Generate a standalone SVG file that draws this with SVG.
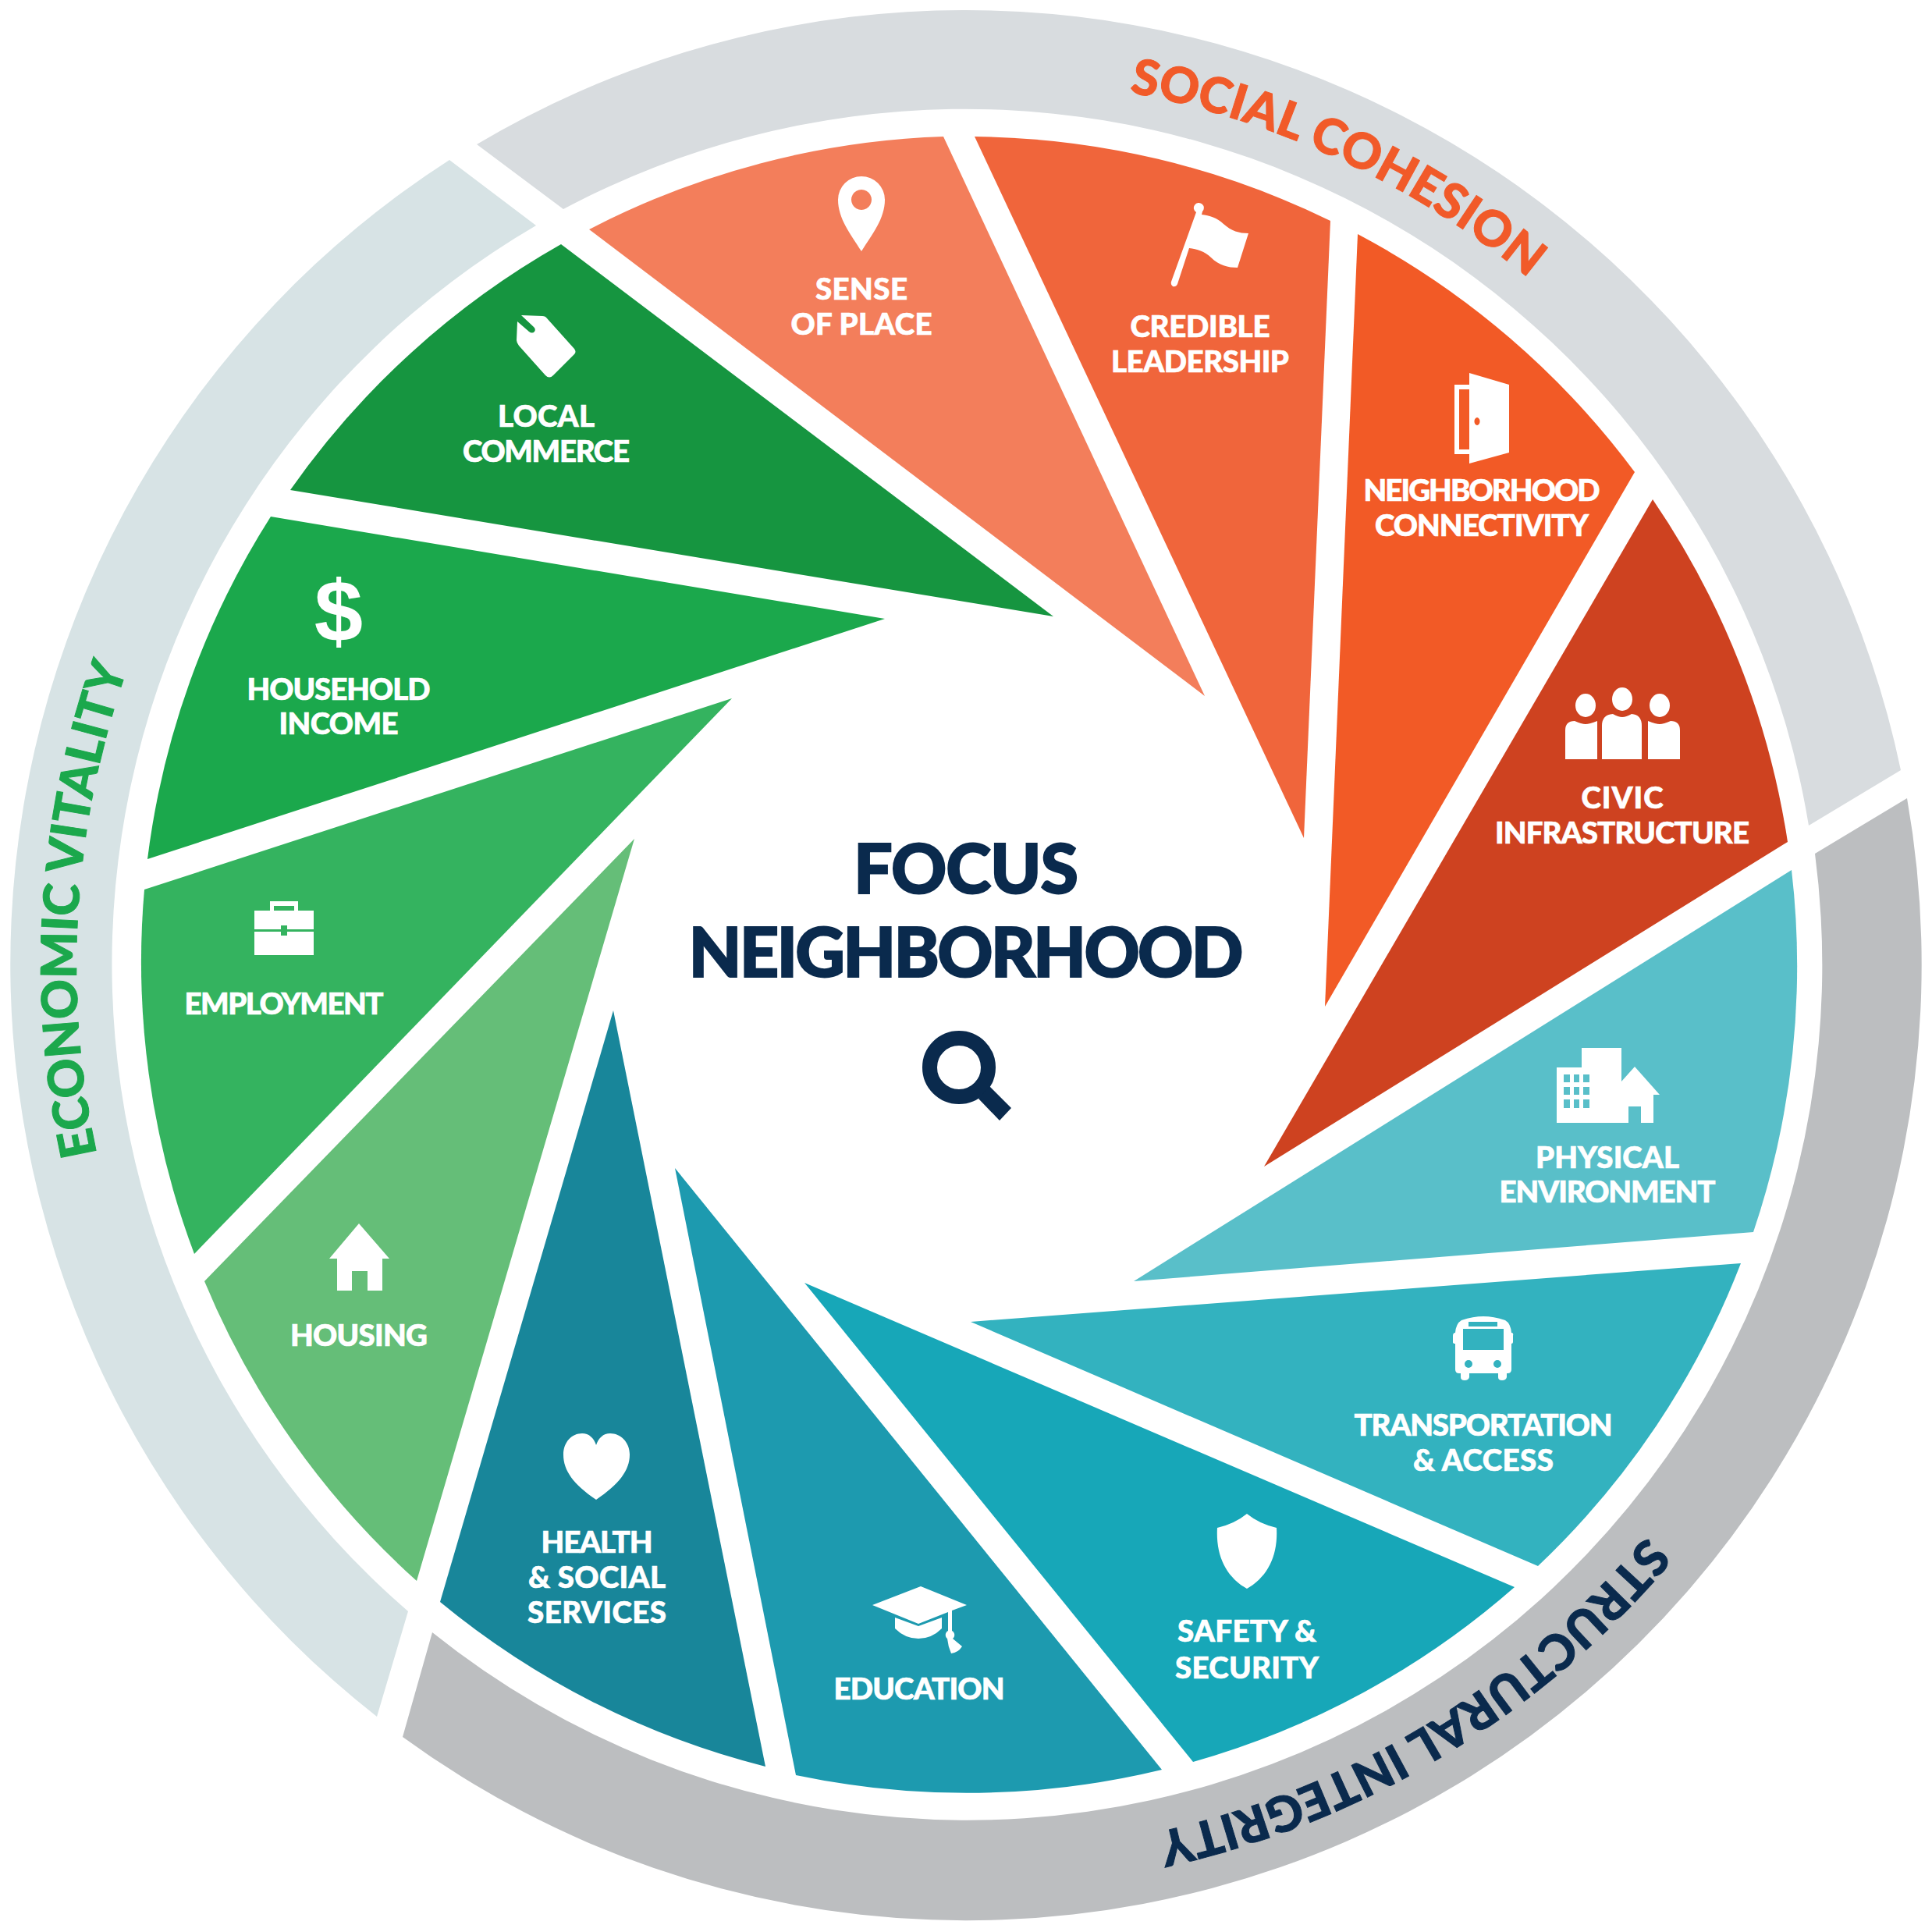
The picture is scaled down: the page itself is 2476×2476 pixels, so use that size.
<svg xmlns="http://www.w3.org/2000/svg" width="2476" height="2476" viewBox="0 0 2476 2476">
<style>
.l{font-family:"Lato","Open Sans","Liberation Sans",sans-serif;font-weight:900;font-size:38.500px;fill:#fff;stroke:#fff;stroke-width:.7px;text-anchor:middle}
.b{font-family:"Lato","Open Sans","Liberation Sans",sans-serif;font-weight:900;font-size:63px;stroke-width:1px}
.c{font-family:"Lato","Open Sans","Liberation Sans",sans-serif;font-weight:900;font-size:88px;fill:#0a2a4d;stroke:#0a2a4d;stroke-width:2px;text-anchor:middle}
.i{fill:#fff}
</style>
<defs>
<path id="ps" d="M1447.4 118.4A1138 1138 0 0 1 2223.5 668"/>
<path id="pe" d="M124 1478.900A1140 1140 0 0 1 364.700 504"/>
<path id="pt" d="M2109.7 1968.7A1138 1138 0 0 1 1238 2375"/>
</defs>
<rect width="2476" height="2476" fill="#fff"/>
<g id="band-social"><path fill="#d8dcdf" d="M611 185A1225 1225 0 0 1 2436 987L2318 1058A1096 1096 0 0 0 722 268Z"/><text class="b" fill="#f15a29" stroke="#f15a29"><textPath href="#ps" textLength="570" lengthAdjust="spacing">SOCIAL COHESION</textPath></text></g>
<g id="band-structural"><path fill="#bcbec0" d="M2444 1023A1225 1225 0 0 1 516 2226L554 2092A1096 1096 0 0 0 2326 1094Z"/><text class="b" fill="#0a2a4d" stroke="#0a2a4d"><textPath href="#pt" textLength="746" lengthAdjust="spacing">STRUCTURAL INTEGRITY</textPath></text></g>
<g id="band-economic"><path fill="#d7e3e5" d="M483 2200A1225 1225 0 0 1 576 205L687 289A1096 1096 0 0 0 523 2065Z"/><text class="b" fill="#1ba84c" stroke="#1ba84c"><textPath href="#pe" textLength="632" lengthAdjust="spacing">ECONOMIC VITALITY</textPath></text></g>

<g id="sense-of-place"><path fill="#f37e5b" d="M755 294A1063 1063 0 0 1 1209 175L1544 892Z"/>
<path class="i" fill-rule="evenodd" d="M1104 322C1090 300 1074 280 1074 256a30 30 0 0 1 60 0C1134 280 1118 300 1104 322ZM1104 243a13 13 0 1 0 .01 0Z"/>
<text class="l" x="1104" y="384" textLength="118" lengthAdjust="spacing">SENSE</text><text class="l" x="1104" y="429" textLength="181" lengthAdjust="spacing">OF PLACE</text></g>

<g id="credible-leadership"><path fill="#f0653b" d="M1249 175A1063 1063 0 0 1 1705 283L1671 1074Z"/>
<path class="i" d="M1533 272a6.500 6.500 0 1 1 8 -1l-1 4C1550 276 1560 279 1568 287C1578 296 1588 299 1600 299L1586 343C1574 343 1562 340 1552 330C1544 322 1534 319 1524 318L1509 364Q1507 368 1503 367Q1500 365 1501 361Z"/>
<text class="l" x="1538" y="432" textLength="179" lengthAdjust="spacing">CREDIBLE</text><text class="l" x="1538" y="477" textLength="228" lengthAdjust="spacing">LEADERSHIP</text></g>

<g id="neighborhood-connectivity"><path fill="#f25a26" d="M1740 300A1063 1063 0 0 1 2095 605L1698 1290Z"/>
<path class="i" fill-rule="evenodd" d="M1883 478L1934 493V580L1883 594ZM1893 535a3.500 5 0 1 0 .01 0Z"/><path fill="none" stroke="#fff" stroke-width="6" d="M1883 496H1867V579H1883"/>
<text class="l" x="1899" y="642" textLength="303" lengthAdjust="spacing">NEIGHBORHOOD</text><text class="l" x="1899" y="687" textLength="274" lengthAdjust="spacing">CONNECTIVITY</text></g>

<g id="civic-infrastructure"><path fill="#ce4220" d="M2118 640A1063 1063 0 0 1 2291 1079L1620 1495Z"/>
<g class="i"><ellipse cx="2032" cy="904" rx="13" ry="15"/><ellipse cx="2079" cy="896" rx="13" ry="15"/><ellipse cx="2127" cy="904" rx="13" ry="15"/>
<path d="M2006 973V936Q2006 924 2018 924Q2027 928 2032 928Q2037 928 2047 924V973Z"/><path d="M2053 973V930Q2053 916 2067 915Q2074 919 2079 919Q2084 919 2091 915Q2104 916 2104 930V973Z"/><path d="M2112 973V924Q2122 928 2127 928Q2132 928 2141 924Q2153 924 2153 936V973Z"/></g>
<text class="l" x="2079" y="1036" textLength="105" lengthAdjust="spacing">CIVIC</text><text class="l" x="2079" y="1081" textLength="326" lengthAdjust="spacing">INFRASTRUCTURE</text></g>

<g id="physical-environment"><path fill="#59bfc9" d="M2296 1115A1063 1063 0 0 1 2247 1579L1453 1642Z"/>
<path class="i" fill-rule="evenodd" d="M1995 1368H2027V1343H2078V1386L2095 1367L2127 1403H2119V1439H2103V1418H2087V1439H1995ZM2004 1377v10h8v-10ZM2017 1377v10h7v-10ZM2029 1377v10h8v-10ZM2004 1393v10h8v-10ZM2017 1393v10h7v-10ZM2029 1393v10h8v-10ZM2004 1409v11h8v-11ZM2017 1409v11h7v-11ZM2029 1409v11h8v-11Z"/>
<text class="l" x="2060" y="1497" textLength="184" lengthAdjust="spacing">PHYSICAL</text><text class="l" x="2060" y="1541" textLength="277" lengthAdjust="spacing">ENVIRONMENT</text></g>

<g id="transportation-access"><path fill="#33b2bf" d="M2231 1619A1063 1063 0 0 1 1971 2007L1244 1694Z"/>
<path class="i" fill-rule="evenodd" d="M1865 1708Q1866 1696 1873 1692Q1888 1687 1901 1687Q1914 1687 1929 1692Q1936 1696 1937 1708Q1940 1708 1939 1712V1720Q1939 1722 1937 1722V1755Q1937 1760 1932 1760H1931V1765Q1930 1769 1925 1769Q1920 1769 1920 1765V1760H1883V1765Q1882 1769 1877 1769Q1872 1769 1872 1765V1760H1870Q1865 1760 1865 1755V1722Q1862 1722 1862 1720V1712Q1862 1708 1865 1708ZM1882 1694V1700H1919V1694ZM1875 1703V1730H1927V1703ZM1887 1748a5 5 0 1 0 -10 0a5 5 0 1 0 10 0ZM1924 1748a5 5 0 1 0 -10 0a5 5 0 1 0 10 0Z"/>
<text class="l" x="1901" y="1840" textLength="331" lengthAdjust="spacing">TRANSPORTATION</text><text class="l" x="1901" y="1885" textLength="180" lengthAdjust="spacing">&amp; ACCESS</text></g>

<g id="safety-security"><path fill="#17a7b8" d="M1941 2034A1063 1063 0 0 1 1529 2258L1031 1644Z"/>
<path class="i" d="M1598 1940Q1582 1953 1560 1958C1558 1992 1570 2020 1598 2036C1626 2020 1638 1992 1636 1958Q1614 1953 1598 1940Z"/>
<text class="l" x="1598" y="2104" textLength="178" lengthAdjust="spacing">SAFETY &amp;</text><text class="l" x="1598" y="2151" textLength="184" lengthAdjust="spacing">SECURITY</text></g>

<g id="education"><path fill="#1d9aaf" d="M1489 2268A1063 1063 0 0 1 1020 2275L865 1497Z"/>
<path class="i" d="M1180 2033L1239 2057L1220 2064V2090A6 6 0 0 1 1221 2100L1233 2110Q1228 2118 1219 2119Q1215 2110 1214 2100A6 6 0 0 1 1215 2090V2066L1177 2081L1118 2057Z"/><path class="i" d="M1147 2073L1177 2084L1207 2073V2087Q1194 2100 1177 2100Q1160 2100 1147 2087Z"/>
<text class="l" x="1178" y="2178" textLength="219" lengthAdjust="spacing">EDUCATION</text></g>

<g id="health-social-services"><path fill="#18869a" d="M981 2264A1063 1063 0 0 1 564 2053L786 1295Z"/>
<path class="i" d="M764 1922C735 1902 722 1885 722 1864C722 1848 733 1837 746 1837C755 1837 761 1843 764 1852C767 1843 773 1837 782 1837C795 1837 807 1848 807 1864C807 1885 793 1902 764 1922Z"/>
<text class="l" x="765" y="1990" textLength="143" lengthAdjust="spacing">HEALTH</text><text class="l" x="765" y="2035" textLength="176" lengthAdjust="spacing">&amp; SOCIAL</text><text class="l" x="765" y="2080" textLength="178" lengthAdjust="spacing">SERVICES</text></g>

<g id="housing"><path fill="#65be78" d="M534 2026A1063 1063 0 0 1 262 1642L813 1075Z"/>
<path class="i" d="M460 1568L499 1613H490V1654H471V1629H451V1654H432V1613H422Z"/>
<text class="l" x="460" y="1725" textLength="176" lengthAdjust="spacing">HOUSING</text></g>

<g id="employment"><path fill="#34b35f" d="M249 1607A1063 1063 0 0 1 185 1140L938 895Z"/>
<path class="i" fill-rule="evenodd" d="M346 1167V1155H382V1167H402V1191H368V1186H360V1191H326V1167ZM351 1161V1167H377V1161Z"/><path class="i" d="M326 1194H360V1199H368V1194H402V1224H326Z"/>
<text class="l" x="364" y="1300" textLength="255" lengthAdjust="spacing">EMPLOYMENT</text></g>

<g id="household-income"><path fill="#1ba84c" d="M189 1101A1063 1063 0 0 1 347 662L1134 793Z"/>
<text x="434" y="822" font-family="Liberation Sans, sans-serif" font-weight="700" font-size="112" fill="#fff" text-anchor="middle">$</text>
<text class="l" x="434" y="897" textLength="235" lengthAdjust="spacing">HOUSEHOLD</text><text class="l" x="434" y="941" textLength="153" lengthAdjust="spacing">INCOME</text></g>

<g id="local-commerce"><path fill="#169540" d="M372 628A1063 1063 0 0 1 719 313L1350 790Z"/>
<path class="i" d="M668 404L695 405Q699 405 701 408L736 447Q739 451 736 454L709 481Q704 486 699 481L665 443Q662 439 662 436L663 412L678 425Q682 428 685 425Q687 422 684 419Z"/>
<text class="l" x="700" y="547" textLength="124" lengthAdjust="spacing">LOCAL</text><text class="l" x="700" y="592" textLength="214" lengthAdjust="spacing">COMMERCE</text></g>

<g id="focus-neighborhood">
<text class="c" x="1238" y="1145" textLength="288" lengthAdjust="spacing">FOCUS</text>
<text class="c" x="1238" y="1252" textLength="711" lengthAdjust="spacing">NEIGHBORHOOD</text>
<circle cx="1229" cy="1368" r="37.500" fill="none" stroke="#0a2a4d" stroke-width="19"/>
<path fill="#0a2a4d" d="M1254 1408L1268 1392L1296 1420L1281 1436Z"/>
</g>
<g id="connectors"/>
</svg>
